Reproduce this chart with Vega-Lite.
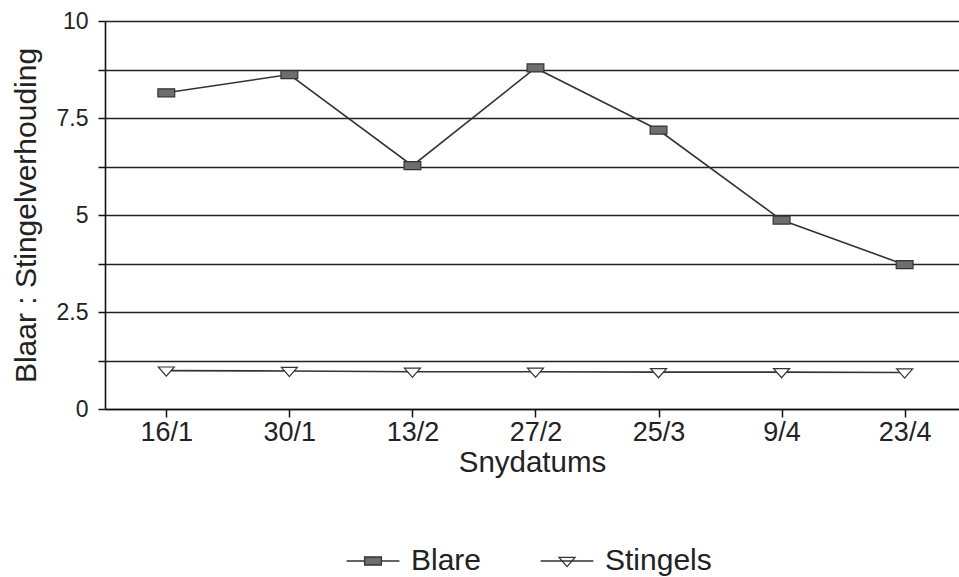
{
  "$schema": "https://vega.github.io/schema/vega-lite/v6.json",
  "autosize": {"type": "none"},
  "padding": {"left": 105, "top": 21, "right": 0, "bottom": 168},
  "width": 854,
  "height": 388,
  "background": "white",
  "config": {
    "font": "Liberation Sans",
    "view": {"stroke": null},
    "axis": {"labelFont": "Liberation Sans", "titleFont": "Liberation Sans", "labelColor": "#222", "titleColor": "#222", "titleFontWeight": "normal", "domainColor": "#111", "tickColor": "#111", "domainWidth": 1.6, "tickWidth": 1.5}
  },
  "data": {
    "values": [
      {"datum": "16/1", "reeks": "Blare", "waarde": 8.15},
      {"datum": "30/1", "reeks": "Blare", "waarde": 8.62},
      {"datum": "13/2", "reeks": "Blare", "waarde": 6.27},
      {"datum": "27/2", "reeks": "Blare", "waarde": 8.79},
      {"datum": "25/3", "reeks": "Blare", "waarde": 7.19},
      {"datum": "9/4", "reeks": "Blare", "waarde": 4.87},
      {"datum": "23/4", "reeks": "Blare", "waarde": 3.72},
      {"datum": "16/1", "reeks": "Stingels", "waarde": 0.99},
      {"datum": "30/1", "reeks": "Stingels", "waarde": 0.98},
      {"datum": "13/2", "reeks": "Stingels", "waarde": 0.96},
      {"datum": "27/2", "reeks": "Stingels", "waarde": 0.96},
      {"datum": "25/3", "reeks": "Stingels", "waarde": 0.95},
      {"datum": "9/4", "reeks": "Stingels", "waarde": 0.95},
      {"datum": "23/4", "reeks": "Stingels", "waarde": 0.94}
    ]
  },
  "encoding": {
    "x": {
      "field": "datum", "type": "ordinal", "sort": null,
      "scale": {"type": "point", "padding": 0.47, "align": 0.53},
      "axis": {"title": "Snydatums", "labelAngle": 0, "labelFontSize": 27, "titleFontSize": 29.5, "tickSize": 8, "labelPadding": 2, "titlePadding": 3, "grid": false}
    },
    "y": {
      "field": "waarde", "type": "quantitative",
      "scale": {"domain": [0, 10], "nice": false, "zero": true},
      "axis": {
        "title": "Blaar : Stingelverhouding",
        "values": [0, 1.25, 2.5, 3.75, 5, 6.25, 7.5, 8.75, 10],
        "labelExpr": "datum.value % 2.5 == 0 ? '' + datum.value : ''",
        "labelFontSize": 23, "titleFontSize": 30, "tickSize": 7, "labelPadding": 10, "titlePadding": 15,
        "grid": true, "gridColor": "#222", "gridWidth": 1.6, "gridOpacity": 1
      }
    }
  },
  "layer": [
    {
      "mark": {"type": "line", "color": "#333", "strokeWidth": 1.6},
      "encoding": {"detail": {"field": "reeks"}}
    },
    {
      "transform": [{"filter": "datum.reeks == 'Blare'"}],
      "mark": {"type": "point", "shape": "M-1.05,-0.5H1.05V0.5H-1.05Z", "filled": true, "fill": "#6e6e6e", "stroke": "#333", "strokeWidth": 1.2, "opacity": 1, "size": 256}
    },
    {
      "transform": [{"filter": "datum.reeks == 'Stingels'"}],
      "mark": {"type": "point", "shape": "M-1,-0.45H1L0,0.7Z", "filled": true, "fill": "#ffffff", "stroke": "#333", "strokeWidth": 1.2, "opacity": 1, "size": 256}
    },
    {
      "mark": {"type": "point", "filled": true, "stroke": "#333", "strokeWidth": 1.3, "opacity": 0, "size": 256},
      "encoding": {
        "shape": {
          "field": "reeks", "type": "nominal",
          "scale": {"domain": ["Blare", "Stingels"], "range": ["M-3.3,0H-1.05M1.05,0H3.3M-1.05,-0.5H1.05V0.5H-1.05Z", "M-3.3,0H3.3M-1,-0.45H1L0,0.7Z"]},
          "legend": {
            "title": null, "orient": "none", "direction": "horizontal", "legendX": 253, "legendY": 525,
            "labelFontSize": 30, "labelFont": "Liberation Sans", "labelColor": "#222", "symbolSize": 256, "symbolOpacity": 1, "symbolStrokeWidth": 1.3, "labelOffset": 23, "columnPadding": 56
          }
        },
        "fill": {
          "field": "reeks", "type": "nominal",
          "scale": {"domain": ["Blare", "Stingels"], "range": ["#6e6e6e", "#ffffff"]},
          "legend": {
            "title": null, "orient": "none", "direction": "horizontal", "legendX": 253, "legendY": 525,
            "labelFontSize": 30, "labelFont": "Liberation Sans", "labelColor": "#222", "symbolSize": 256, "symbolOpacity": 1, "symbolStrokeWidth": 1.3, "labelOffset": 23, "columnPadding": 56
          }
        }
      }
    }
  ]
}
